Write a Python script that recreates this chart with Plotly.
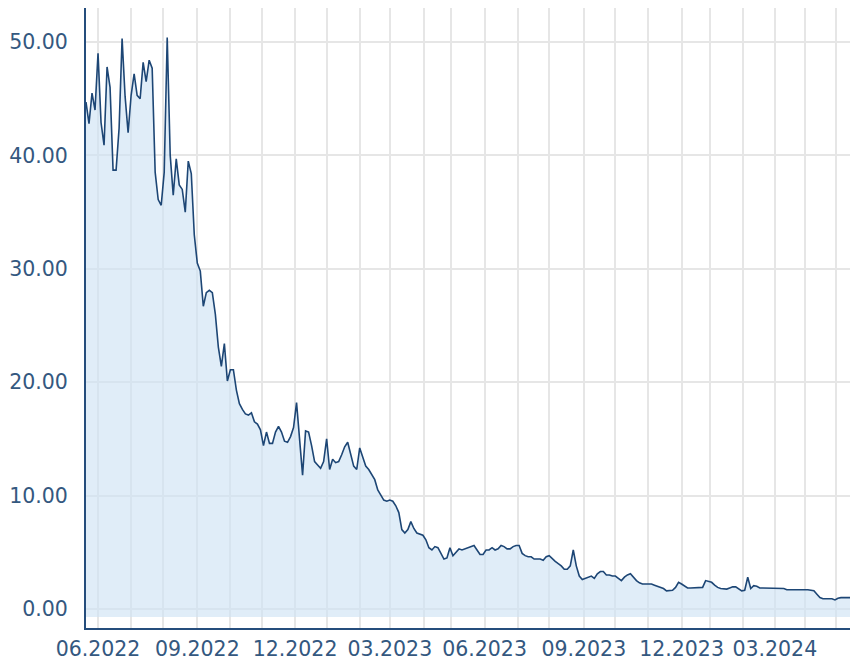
import pandas as pd
import plotly.graph_objects as go

# Exchange holidays (non-weekend closing days) in the period
holidays = ["2022-12-26", "2023-04-07", "2023-04-10", "2023-05-01", "2023-12-25",
            "2023-12-26", "2024-01-01", "2024-03-29", "2024-04-01", "2024-05-01"]

# Closing prices, every second trading day starting 2022-05-20
values = [
    44.7, 42.8, 45.5, 44.0, 49.0, 42.9, 40.9, 47.8, 46.0, 38.7,
    38.7, 42.4, 50.3, 45.2, 42.0, 45.3, 47.2, 45.3, 45.0, 48.2,
    46.5, 48.4, 47.7, 38.5, 36.1, 35.6, 38.5, 50.4, 40.0, 36.5,
    39.7, 37.4, 37.0, 35.0, 39.5, 38.4, 33.0, 30.5, 29.8, 26.7,
    27.9, 28.1, 27.9, 26.0, 23.1, 21.4, 23.4, 20.1, 21.1, 21.1,
    19.3, 18.1, 17.6, 17.2, 17.1, 17.3, 16.5, 16.3, 15.8, 14.4,
    15.6, 14.6, 14.6, 15.6, 16.1, 15.6, 14.8, 14.7, 15.2, 16.0,
    18.2, 14.8, 11.8, 15.7, 15.6, 14.4, 13.0, 12.7, 12.4, 13.0,
    15.0, 12.3, 13.2, 12.9, 13.0, 13.6, 14.3, 14.7, 13.5, 12.6,
    12.3, 14.2, 13.4, 12.6, 12.3, 11.8, 11.4, 10.5, 10.0, 9.6,
    9.5, 9.6, 9.5, 9.1, 8.5, 7.0, 6.7, 7.0, 7.7, 7.1,
    6.7, 6.6, 6.5, 6.1, 5.4, 5.2, 5.5, 5.4, 4.9, 4.4,
    4.5, 5.4, 4.7, 5.0, 5.3, 5.2, 5.3, 5.4, 5.5, 5.6,
    5.2, 4.8, 4.8, 5.2, 5.2, 5.4, 5.2, 5.3, 5.6, 5.5,
    5.3, 5.3, 5.5, 5.6, 5.6, 4.9, 4.7, 4.6, 4.6, 4.4,
    4.4, 4.4, 4.3, 4.6, 4.7, 4.4, 4.2, 4.0, 3.8, 3.5,
    3.5, 3.8, 5.2, 3.8, 2.9, 2.6, 2.7, 2.8, 2.9, 2.7,
    3.1, 3.3, 3.3, 3.0, 3.0, 2.9, 2.9, 2.7, 2.5, 2.8,
    3.0, 3.1, 2.8, 2.5, 2.3, 2.2, 2.2, 2.2, 2.2, 2.1,
    2.0, 1.95, 1.8, 1.6, 1.6, 1.65, 1.9, 2.35, 2.2, 2.05,
    1.85, 1.85, 1.85, 1.85, 1.85, 1.9, 2.5, 2.4, 2.35, 2.1,
    1.9, 1.8, 1.75, 1.75, 1.85, 1.95, 1.95, 1.8, 1.6, 1.65,
    2.8, 1.8, 2.05, 2.0, 1.85, 1.85, 1.85, 1.85, 1.85, 1.85,
    1.85, 1.85, 1.8, 1.7, 1.7, 1.75, 1.7, 1.7, 1.7, 1.7,
    1.7, 1.65, 1.6, 1.3, 1.0, 0.9, 0.9, 0.9, 0.9, 0.8,
    0.95, 1.0, 1.0, 1.0, 1.0,
]

y_ticks = [0, 10, 20, 30, 40, 50]
FILL_BASE = -0.7

tdays = pd.bdate_range("2022-05-20", "2024-06-30", freq="C", holidays=holidays)
dates = tdays[::2][:len(values)]

month_starts = pd.date_range("2022-06-01", "2024-05-01", freq="MS")
month_ticks = tdays[tdays.searchsorted(month_starts)]
major_mask = [m.month in (3, 6, 9, 12) for m in month_starts]
major_vals = [t for t, k in zip(month_ticks, major_mask) if k]
major_text = [m.strftime("%m.%Y") for m, k in zip(month_starts, major_mask) if k]

LINE = "#1d4675"
AXIS = "#254d7c"
TEXT = "#34587f"
GRID = "#e6e6e6"

fig = go.Figure()
fig.add_trace(go.Scatter(x=dates, y=[FILL_BASE] * len(dates), mode="lines",
                         line=dict(width=0), hoverinfo="skip", showlegend=False))
fig.add_trace(go.Scatter(x=dates, y=values, mode="lines", fill="tonexty",
                         fillcolor="rgba(208,227,245,0.65)",
                         line=dict(color=LINE, width=1.6), showlegend=False))

fig.update_layout(
    width=854, height=661,
    margin=dict(l=86, r=4, t=8, b=33, autoexpand=False),
    paper_bgcolor="white", plot_bgcolor="white",
    font=dict(family="DejaVu Sans, Verdana, sans-serif", size=20.5, color=TEXT),
    showlegend=False,
)
fig.update_xaxes(
    type="date", automargin=False,
    range=[dates[0], dates[-1]],
    rangebreaks=[dict(bounds=["sat", "mon"]), dict(values=holidays)],
    tickmode="array", tickvals=major_vals, ticktext=major_text,
    showgrid=True, gridcolor=GRID, gridwidth=2,
    minor=dict(tickmode="array", tickvals=list(month_ticks), showgrid=True,
               gridcolor=GRID, gridwidth=2, ticks=""),
    ticks="", ticklabelstandoff=1,
    showline=True, linecolor=AXIS, linewidth=2,
    layer="below traces", zeroline=False,
)
fig.update_yaxes(
    automargin=False,
    range=[-1.68, 53.0],
    tickmode="array", tickvals=y_ticks, tickformat=".2f",
    showgrid=True, gridcolor=GRID, gridwidth=2,
    ticks="", ticklabelstandoff=12,
    showline=True, linecolor=AXIS, linewidth=2,
    layer="below traces", zeroline=False,
)

fig.write_html(
    "out.html",
    config={"displayModeBar": False},
    post_script="document.body.style.margin='0';document.body.style.overflow='hidden';",
)
